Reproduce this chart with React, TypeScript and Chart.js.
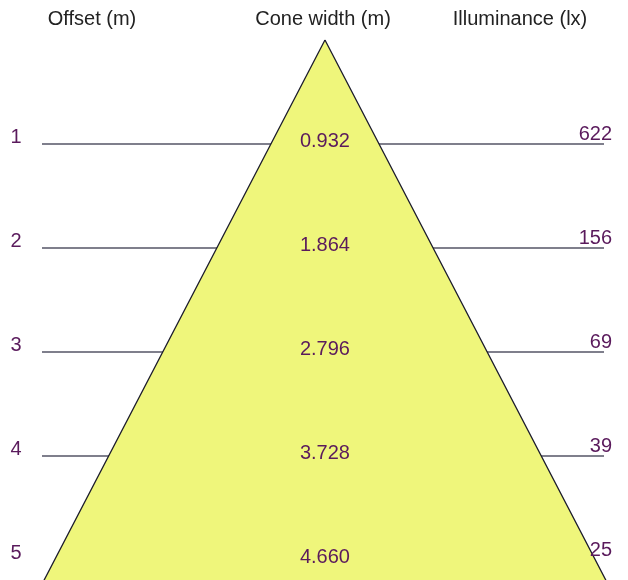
import React, { useEffect, useRef } from "react";
import { Chart, registerables } from "chart.js";

Chart.register(...registerables);

// ---- data ----
const offsets = [1, 2, 3, 4, 5]; // m
const coneWidths = [0.932, 1.864, 2.796, 3.728, 4.66]; // m
const illuminance = [622, 156, 69, 39, 25]; // lx
const headers = ["Offset (m)", "Cone width (m)", "Illuminance (lx)"];

// ---- style ----
const W = 628;
const H = 580;
const FONT = '"Liberation Sans", Arial, Helvetica, sans-serif';
const TEXT_PURPLE = "#5a1a5c";
const HEADER_COLOR = "#222222";
const LINE_COLOR = "#555566";
const CONE_FILL = "#eff67b";
const CONE_EDGE = "#1c1c2c";

export default function App() {
  const ref = useRef<HTMLCanvasElement | null>(null);

  useEffect(() => {
    if (!ref.current) return;
    const widthPerMetre = coneWidths[0] / offsets[0];
    const depth = offsets[offsets.length - 1] + 1.5;
    const cone = [
      { x: 0, y: 0 },
      { x: (widthPerMetre * depth) / 2, y: depth },
      { x: -(widthPerMetre * depth) / 2, y: depth },
      { x: 0, y: 0 },
    ];

    const linesPlugin = {
      id: "rowLines",
      beforeDatasetsDraw(chart: any) {
        const ctx = chart.ctx;
        const ys = chart.scales.y;
        ctx.save();
        ctx.strokeStyle = LINE_COLOR;
        ctx.lineWidth = 1.6;
        offsets.forEach((o, i) => {
          if (i === offsets.length - 1) return; // bottom row line falls below the frame
          const py = ys.getPixelForValue(o);
          ctx.beginPath();
          ctx.moveTo(42, py);
          ctx.lineTo(604, py);
          ctx.stroke();
        });
        ctx.restore();
      },
      afterDatasetsDraw(chart: any) {
        const ctx = chart.ctx;
        const ys = chart.scales.y;
        const xs = chart.scales.x;
        ctx.save();
        ctx.textBaseline = "middle";
        // headers
        ctx.fillStyle = HEADER_COLOR;
        ctx.font = `20px ${FONT}`;
        ctx.textAlign = "center";
        ctx.fillText(headers[0], 92, 19);
        ctx.fillText(headers[1], 323, 19);
        ctx.fillText(headers[2], 520, 19);
        // row labels
        ctx.fillStyle = TEXT_PURPLE;
        ctx.font = `20px ${FONT}`;
        offsets.forEach((o, i) => {
          const py = ys.getPixelForValue(o);
          ctx.textAlign = "center";
          ctx.fillText(String(o), 16, py - 7);
          ctx.fillText(coneWidths[i].toFixed(3), xs.getPixelForValue(0), py - 3);
          ctx.textAlign = "right";
          ctx.fillText(String(illuminance[i]), 612, py - 10);
        });
        ctx.restore();
      },
    };

    const chart = new Chart(ref.current, {
      type: "scatter",
      data: {
        datasets: [
          {
            data: cone,
            showLine: true,
            fill: "shape" as any,
            backgroundColor: CONE_FILL,
            borderColor: CONE_EDGE,
            borderWidth: 1.3,
            pointRadius: 0,
            tension: 0,
          },
        ],
      },
      options: {
        animation: false,
        responsive: false,
        devicePixelRatio: 1,
        layout: { padding: 0 },
        plugins: {
          legend: { display: false },
          tooltip: { enabled: false },
        },
        scales: {
          x: { type: "linear", display: false, min: -2.8, max: 2.611 },
          y: { type: "linear", display: false, reverse: true, min: -0.3846, max: 5.192 },
        },
      },
      plugins: [linesPlugin],
    });
    return () => chart.destroy();
  }, []);

  return (
    <div style={{ position: "fixed", left: 0, top: 0, width: W, height: H, background: "#ffffff" }}>
      <canvas ref={ref} width={W} height={H} style={{ width: W, height: H, display: "block" }} />
    </div>
  );
}
